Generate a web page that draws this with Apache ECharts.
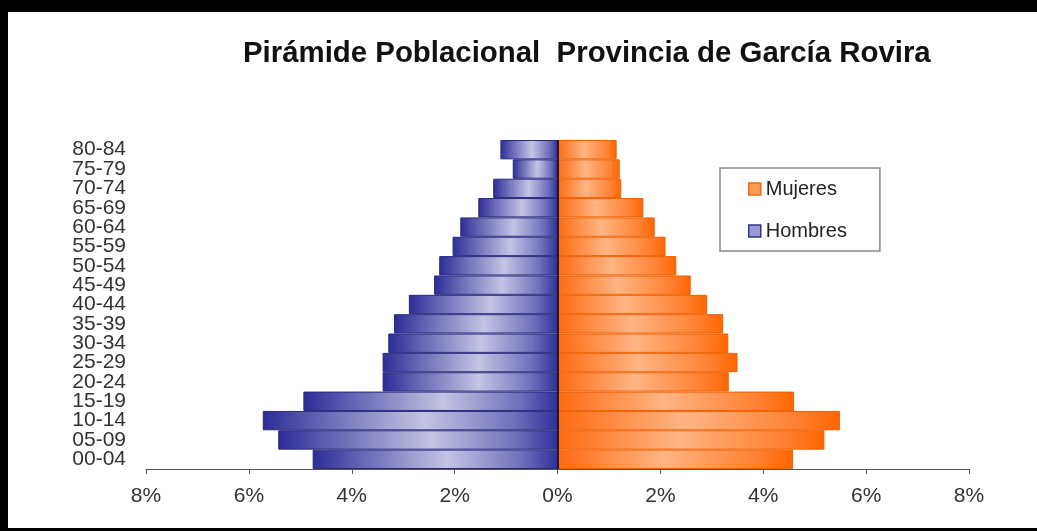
<!DOCTYPE html>
<html>
<head>
<meta charset="utf-8">
<script src="https://cdn.jsdelivr.net/npm/echarts@6/dist/echarts.min.js"></script>
<style>
html,body{margin:0;padding:0;background:#fff;}
#c{width:1037px;height:531px;}
</style>
</head>
<body>
<div id="c"></div>
<script>
var titleText = 'Pirámide Poblacional  Provincia de García Rovira';
var categories = ['00-04','05-09','10-14','15-19','20-24','25-29','30-34','35-39','40-44','45-49','50-54','55-59','60-64','65-69','70-74','75-79','80-84'];
var hombres = [4.76,5.43,5.73,4.94,3.40,3.40,3.29,3.18,2.89,2.40,2.30,2.04,1.89,1.54,1.25,0.87,1.11];
var mujeres = [4.58,5.19,5.49,4.60,3.33,3.50,3.32,3.22,2.91,2.59,2.31,2.10,1.89,1.67,1.24,1.21,1.15];
var xTicks = [-8,-6,-4,-2,0,2,4,6,8];

var chart = echarts.init(document.getElementById('c'), null, {renderer:'canvas'});
var font = '"Liberation Sans", Arial, sans-serif';

var maleGrad = new echarts.graphic.LinearGradient(0,0,1,0,[
  {offset:0,color:'#2c2c96'},{offset:0.18,color:'#6060b2'},{offset:0.55,color:'#c4c4e4'},{offset:0.85,color:'#7070bc'},{offset:1,color:'#303098'}
]);
var femGrad = new echarts.graphic.LinearGradient(0,0,1,0,[
  {offset:0,color:'#ff6a10'},{offset:0.45,color:'#ffb584'},{offset:0.85,color:'#ff8030'},{offset:1,color:'#ff6600'}
]);

var option = {
  animation:false,
  backgroundColor:'#ffffff',
  title:{
    text:titleText, left:243, top:39, padding:0,
    textStyle:{fontFamily:font,fontSize:29.4,fontWeight:'bold',color:'#111'}
  },
  legend:{
    orient:'vertical', left:720, top:168,
    padding:[11,33,10,28],
    borderColor:'#888', borderWidth:1.5,
    itemWidth:12, itemHeight:12, itemGap:22,
    textStyle:{fontFamily:font,fontSize:20,color:'#222'},
    data:[
      {name:'Mujeres',icon:'rect',itemStyle:{color:'#ff9a55',borderColor:'#f06a10',borderWidth:1.5}},
      {name:'Hombres',icon:'rect',itemStyle:{color:'#9a9ad4',borderColor:'#33338a',borderWidth:1.5}}
    ]
  },
  grid:{left:146,right:68,top:140,bottom:62,containLabel:false},
  xAxis:{
    type:'value', min:-8, max:8, interval:2,
    axisLine:{show:true,lineStyle:{color:'#555',width:1}},
    axisTick:{show:true,length:5,lineStyle:{color:'#555'}},
    splitLine:{show:false},
    axisLabel:{margin:17,fontFamily:font,fontSize:21,color:'#333',
      formatter:function(v){return Math.abs(v)+'%';}}
  },
  yAxis:{
    type:'category', data:categories,
    axisLine:{show:false,onZero:false},
    axisTick:{show:false},
    axisLabel:{interval:0,margin:20,fontFamily:font,fontSize:21,color:'#333'}
  },
  graphic:[
    {type:'rect',shape:{x:0,y:0,width:1037,height:12},style:{fill:'#000'},z:100},
    {type:'rect',shape:{x:0,y:0,width:8,height:531},style:{fill:'#000'},z:100},
    {type:'rect',shape:{x:0,y:528,width:1037,height:3},style:{fill:'#000'},z:100}
  ],
  series:[
    {
      name:'Hombres', type:'bar', stack:'p', barCategoryGap:'0%',
      data:hombres.map(function(v){return -v;}),
      itemStyle:{color:maleGrad,borderColor:'#2a2a7e',borderWidth:1},
      markLine:{silent:true,symbol:'none',label:{show:false},
        lineStyle:{color:'#1a1a3a',width:2,type:'solid'},data:[{xAxis:0}]}
    },
    {
      name:'Mujeres', type:'bar', stack:'p', barCategoryGap:'0%',
      data:mujeres,
      itemStyle:{color:femGrad,borderColor:'#f06000',borderWidth:1}
    }
  ]
};
chart.setOption(option);
</script>
</body>
</html>
